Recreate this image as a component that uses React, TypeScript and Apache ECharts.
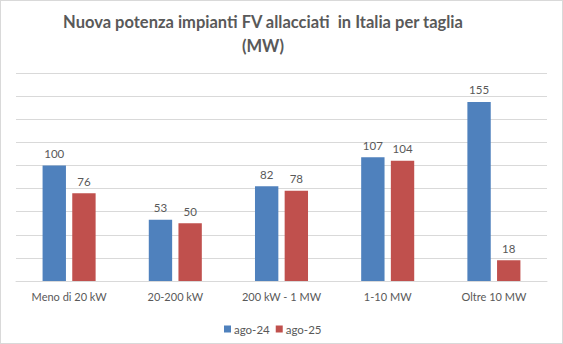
import React, { useEffect, useRef } from "react";
import * as echarts from "echarts";

const categories = ["Meno di 20 kW", "20-200 kW", "200 kW - 1 MW", "1-10 MW", "Oltre 10 MW"];
const ago24 = [100, 53, 82, 107, 155];
const ago25 = [76, 50, 78, 104, 18];
const seriesNames = ["ago-24", "ago-25"];
const titleText = "Nuova potenza impianti FV allacciati  in Italia per taglia\n(MW)";

const FONT = "Lato, 'Open Sans', sans-serif";
const TXT = "#595959";

export default function App() {
  const ref = useRef<HTMLDivElement>(null);
  useEffect(() => {
    const chart = echarts.init(ref.current!, null, { renderer: "svg" });
    chart.setOption({
      animation: false,
      backgroundColor: "#ffffff",
      title: {
        text: titleText,
        left: 257,
        textAlign: "center",
        top: 4,
        textStyle: { fontFamily: FONT, fontSize: 16.5, fontWeight: "bold", color: TXT, lineHeight: 24 },
      },
      legend: {
        top: 317,
        left: 218,
        itemWidth: 7,
        itemHeight: 7,
        itemGap: 6,
        icon: "rect",
        textStyle: { fontFamily: FONT, fontSize: 11.5, color: TXT, padding: [0, 0, 0, -2] },
        data: seriesNames,
      },
      grid: { left: 15, right: 15, top: 72, bottom: 62, containLabel: false },
      xAxis: {
        type: "category",
        data: categories,
        axisLine: { lineStyle: { color: "#d9d9d9", width: 1 } },
        axisTick: { show: false },
        axisLabel: { fontFamily: FONT, fontSize: 11, color: TXT, margin: 10, interval: 0 },
      },
      yAxis: {
        type: "value",
        min: 0,
        max: 180,
        interval: 20,
        axisLabel: { show: false },
        axisLine: { show: false },
        axisTick: { show: false },
        splitLine: { lineStyle: { color: "#d9d9d9", width: 1 } },
      },
      series: [
        {
          name: seriesNames[0],
          type: "bar",
          data: ago24,
          barWidth: "22%",
          barGap: "27%",
          itemStyle: { color: "#4f81bd" },
          label: { show: true, position: "top", distance: 6, fontFamily: FONT, fontSize: 11.5, color: TXT },
        },
        {
          name: seriesNames[1],
          type: "bar",
          data: ago25,
          barWidth: "22%",
          itemStyle: { color: "#c0504d" },
          label: { show: true, position: "top", distance: 6, fontFamily: FONT, fontSize: 11.5, color: TXT },
        },
      ],
    });
    return () => chart.dispose();
  }, []);
  return (
    <div
      style={{
        position: "absolute",
        left: 0,
        top: 0,
        width: 563,
        height: 344,
        boxSizing: "border-box",
        border: "1px solid #d9d9d9",
        background: "#fff",
      }}
    >
      <div ref={ref} style={{ width: 561, height: 342 }} />
    </div>
  );
}
